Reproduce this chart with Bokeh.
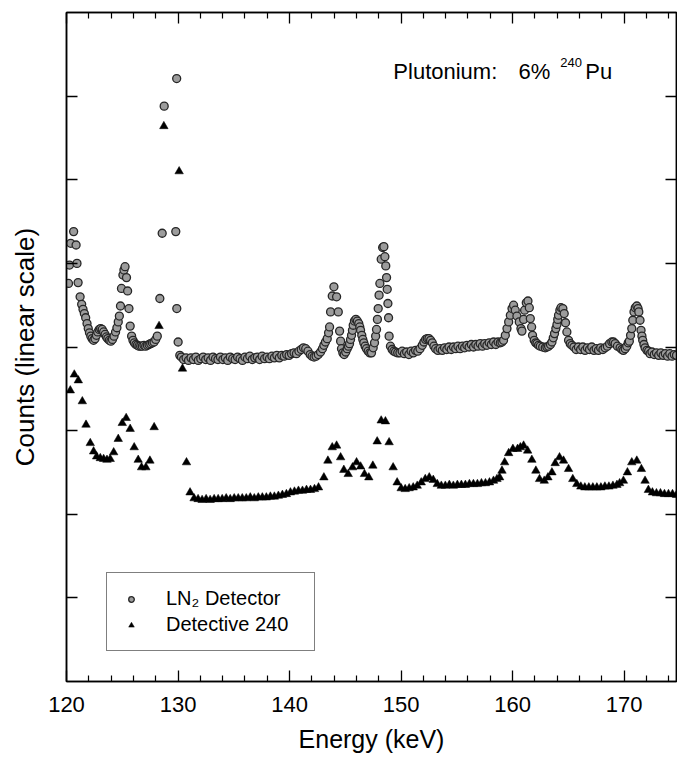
from bokeh.plotting import figure
from bokeh.models import (LinearAxis, FixedTicker, Range1d, Legend, LegendItem,
                          Label, CustomJSTickFormatter)
from bokeh.embed import file_html
from bokeh.resources import INLINE

FONT = "Liberation Sans"

# ---------------- data ----------------
# LN2 detector spectrum: energy (keV) and counts (arbitrary linear units)
ln2_kev_a = [120.18, 120.27, 120.38, 120.64, 120.86, 120.94, 121.04, 121.22, 121.36, 121.48,
             121.60, 121.72, 121.84, 121.95, 122.06, 122.18, 122.30, 122.43, 122.56, 122.68,
             122.80, 122.93, 123.06, 123.20, 123.33, 123.46, 123.58, 123.70, 123.84, 123.98,
             124.12, 124.26, 124.40, 124.52, 124.64, 124.74, 124.84, 124.93, 125.06, 125.15,
             125.25, 125.38, 125.48, 125.60, 125.71, 125.84, 125.96, 126.08, 126.22, 126.36,
             126.50, 126.65, 126.80, 126.95, 127.10, 127.25, 127.40, 127.55, 127.70, 127.85,
             128.00, 128.14, 128.37, 128.58, 128.76, 129.88, 129.80, 129.89, 130.01, 130.16]
ln2_cts_a = [4.76, 4.98, 5.24, 5.38, 5.22, 5.00, 4.77, 4.60, 4.51, 4.45,
             4.40, 4.35, 4.28, 4.22, 4.17, 4.13, 4.10, 4.08, 4.10, 4.14,
             4.18, 4.21, 4.22, 4.21, 4.18, 4.15, 4.12, 4.10, 4.08, 4.07,
             4.09, 4.13, 4.18, 4.23, 4.30, 4.37, 4.49, 4.70, 4.86, 4.92,
             4.96, 4.83, 4.67, 4.46, 4.25, 4.13, 4.08, 4.05, 4.03, 4.02,
             4.01, 4.01, 4.01, 4.02, 4.01, 4.02, 4.03, 4.04, 4.05, 4.06,
             4.09, 4.13, 4.58, 5.36, 6.88, 7.21, 5.38, 4.46, 4.06, 3.90]

ln2_kev_b = [130.30, 130.50, 130.72, 130.94, 131.16, 131.38, 131.60, 131.82, 132.04, 132.26,
             132.48, 132.70, 132.92, 133.14, 133.36, 133.58, 133.80, 134.02, 134.24, 134.46,
             134.68, 134.90, 135.12, 135.34, 135.56, 135.78, 136.00, 136.22, 136.44, 136.66,
             136.88, 137.10, 137.32, 137.54, 137.76, 137.98, 138.20, 138.42, 138.64, 138.86,
             139.08, 139.30, 139.52, 139.74, 139.96, 140.18, 140.40, 140.62, 140.84]
ln2_cts_b = [3.88, 3.85, 3.87, 3.84, 3.87, 3.85, 3.88, 3.84, 3.86, 3.88,
             3.85, 3.87, 3.84, 3.88, 3.86, 3.85, 3.88, 3.85, 3.87, 3.84,
             3.88, 3.86, 3.85, 3.88, 3.86, 3.84, 3.88, 3.86, 3.89, 3.85,
             3.87, 3.88, 3.85, 3.89, 3.86, 3.88, 3.86, 3.89, 3.87, 3.90,
             3.87, 3.90, 3.89, 3.91, 3.90, 3.92, 3.93, 3.92, 3.95]

ln2_kev_c = [141.05, 141.25, 141.45, 141.65, 141.85, 142.02, 142.20, 142.38, 142.58, 142.78,
             142.95, 143.08, 143.22, 143.38, 143.50, 143.59, 143.68, 143.83, 143.98, 144.22,
             144.37, 144.49, 144.58, 144.66, 144.78, 144.90, 145.04, 145.17, 145.28, 145.38,
             145.47, 145.56, 145.64, 145.71, 145.82, 145.95, 146.08, 146.21, 146.30, 146.37,
             146.48, 146.57, 146.66, 146.78, 146.90, 147.05, 147.20, 147.35, 147.50, 147.62,
             147.72, 147.80, 147.88, 147.95, 148.03, 148.10, 148.22, 148.35, 148.46, 148.55,
             148.63, 148.70, 148.76, 148.82, 148.88, 148.93, 149.05, 149.20, 149.35, 149.50,
             149.70, 149.90]
ln2_cts_c = [3.97, 3.99, 3.98, 3.95, 3.91, 3.89, 3.88, 3.89, 3.91, 3.94,
             3.98, 4.02, 4.06, 4.10, 4.17, 4.24, 4.42, 4.61, 4.72, 4.60,
             4.42, 4.19, 4.07, 3.98, 3.93, 3.91, 3.94, 3.98, 4.01, 4.04,
             4.09, 4.14, 4.20, 4.26, 4.31, 4.33, 4.31, 4.28, 4.24, 4.20,
             4.14, 4.09, 4.05, 4.01, 3.98, 3.95, 3.93, 3.93, 3.99, 4.05,
             4.13, 4.21, 4.33, 4.46, 4.62, 4.76, 5.05, 5.19, 5.20, 5.08,
             4.97, 4.83, 4.69, 4.52, 4.35, 4.13, 4.01, 3.97, 3.95, 3.94,
             3.93, 3.93]

ln2_kev_d = [150.10, 150.30, 150.50, 150.70, 150.90, 151.10, 151.30, 151.50, 151.70, 151.90,
             152.05, 152.20, 152.35, 152.50, 152.65, 152.80, 152.95, 153.10, 153.30, 153.50,
             153.70, 153.90, 154.10, 154.30, 154.50, 154.70, 154.90, 155.10, 155.30, 155.50,
             155.70, 155.90, 156.10, 156.30, 156.50, 156.70, 156.90, 157.10, 157.30, 157.50,
             157.70, 157.90, 158.10, 158.30, 158.50, 158.70, 158.90, 159.05]
ln2_cts_d = [3.95, 3.92, 3.94, 3.91, 3.95, 3.93, 3.96, 3.95, 3.98, 4.02,
             4.06, 4.09, 4.10, 4.10, 4.08, 4.05, 4.01, 3.98, 3.96, 3.98,
             3.96, 3.99, 3.97, 4.00, 3.97, 4.00, 3.98, 4.01, 3.98, 4.01,
             3.99, 4.02, 4.00, 4.03, 4.00, 4.03, 4.01, 4.04, 4.01, 4.04,
             4.02, 4.05, 4.03, 4.06, 4.03, 4.06, 4.05, 4.06]

ln2_kev_e = [159.19, 159.35, 159.50, 159.65, 159.80, 159.95, 160.09, 160.24, 160.39, 160.60,
             160.75, 160.84, 160.99, 161.08, 161.23, 161.38, 161.50, 161.59, 161.71, 161.79,
             161.94, 162.07, 162.19, 162.33, 162.48, 162.70, 162.93, 163.08, 163.23, 163.40,
             163.53, 163.65, 163.76, 163.88, 163.98, 164.05, 164.12, 164.24, 164.34, 164.51,
             164.63, 164.75, 164.87, 165.02, 165.17, 165.32, 165.50, 165.70, 165.90, 166.10,
             166.30, 166.50, 166.70, 166.90, 167.10, 167.30, 167.50, 167.70, 167.90, 168.10,
             168.30, 168.50, 168.70, 168.90, 169.05, 169.20, 169.40, 169.64, 169.80, 169.94,
             170.10, 170.24, 170.37, 170.47, 170.58, 170.69, 170.78, 170.89, 171.00, 171.14,
             171.25, 171.32, 171.43, 171.52, 171.60, 171.67, 171.78, 171.88, 172.05, 172.20,
             172.33, 172.50, 172.70, 172.90, 173.10, 173.30, 173.50, 173.70, 173.90, 174.10,
             174.30, 174.50, 174.70]
ln2_cts_e = [4.08, 4.14, 4.22, 4.30, 4.38, 4.46, 4.50, 4.44, 4.37, 4.30,
             4.22, 4.19, 4.33, 4.44, 4.53, 4.55, 4.47, 4.34, 4.24, 4.14,
             4.08, 4.05, 4.04, 4.02, 4.01, 4.00, 3.99, 4.00, 4.01, 4.03,
             4.06, 4.11, 4.16, 4.22, 4.27, 4.33, 4.38, 4.44, 4.47, 4.46,
             4.40, 4.29, 4.18, 4.08, 4.04, 4.02, 4.00, 3.97, 4.00, 3.97,
             4.00, 3.96, 3.99, 3.97, 4.00, 3.96, 3.98, 3.96, 3.99, 3.97,
             3.99, 4.01, 4.04, 4.06, 4.06, 4.04, 4.01, 3.99, 3.97, 3.96,
             3.98, 4.01, 4.05, 4.07, 4.14, 4.22, 4.32, 4.42, 4.47, 4.49,
             4.46, 4.42, 4.32, 4.20, 4.13, 4.08, 4.03, 3.99, 3.96, 3.95,
             3.92, 3.94, 3.91, 3.93, 3.90, 3.93, 3.90, 3.92, 3.89, 3.92,
             3.89, 3.91, 3.90]

# Detective 240 spectrum
det_kev_a = [120.34, 120.70, 121.06, 121.42, 121.75, 122.13, 122.43, 122.70, 123.03, 123.33,
             123.63, 123.92, 124.23, 124.64, 125.00, 125.35, 125.71, 126.07, 126.43, 126.73,
             127.12, 127.48, 127.86, 128.30, 128.73, 130.10, 130.40, 130.76, 131.08, 131.44]
det_cts_a = [3.48, 3.67, 3.60, 3.35, 3.07, 2.85, 2.75, 2.69, 2.67, 2.66,
             2.65, 2.66, 2.74, 2.90, 3.09, 3.15, 3.02, 2.80, 2.65, 2.56,
             2.56, 2.64, 3.04, 4.25, 6.64, 6.10, 3.74, 2.62, 2.26, 2.19]

det_kev_b = [131.80, 132.16, 132.52, 132.88, 133.24, 133.60, 133.96, 134.32, 134.68, 135.04,
             135.40, 135.76, 136.12, 136.48, 136.84, 137.20, 137.56, 137.92, 138.28, 138.64,
             139.00, 139.36, 139.72, 140.08, 140.44, 140.80, 141.16, 141.52, 141.88, 142.24,
             142.60]
det_cts_b = [2.18, 2.17, 2.18, 2.17, 2.18, 2.18, 2.18, 2.19, 2.18, 2.19,
             2.19, 2.19, 2.19, 2.20, 2.19, 2.20, 2.20, 2.20, 2.21, 2.21,
             2.22, 2.23, 2.24, 2.26, 2.27, 2.28, 2.28, 2.29, 2.29, 2.30,
             2.32]

det_kev_c = [143.08, 143.44, 143.83, 144.22, 144.58, 144.87, 145.26, 145.65, 146.01, 146.37,
             146.72, 147.11, 147.47, 147.86, 148.22, 148.60, 148.93, 149.29, 149.65, 150.01,
             150.37, 150.73, 151.09, 151.45, 151.81, 152.17, 152.53, 152.89, 153.25, 153.61,
             153.97, 154.33, 154.69, 155.05, 155.41, 155.77, 156.13, 156.49, 156.85, 157.21,
             157.57, 157.93, 158.29, 158.60]
det_cts_c = [2.44, 2.64, 2.80, 2.82, 2.68, 2.53, 2.48, 2.56, 2.62, 2.57,
             2.48, 2.44, 2.58, 2.87, 3.12, 3.11, 2.86, 2.56, 2.38, 2.31,
             2.30, 2.31, 2.32, 2.34, 2.38, 2.42, 2.44, 2.41, 2.36, 2.34,
             2.34, 2.35, 2.34, 2.35, 2.35, 2.35, 2.36, 2.36, 2.36, 2.37,
             2.37, 2.38, 2.40, 2.42]

det_kev_d = [158.84, 159.05, 159.29, 159.65, 160.03, 160.45, 160.70, 160.99, 161.35, 161.73,
             162.09, 162.42, 162.84, 163.17, 163.53, 163.82, 164.21, 164.57, 165.02, 165.40,
             165.76, 166.12, 166.48, 166.84, 167.20, 167.56, 167.92, 168.28, 168.64, 169.00,
             169.36, 169.60, 169.94, 170.30, 170.69, 171.14, 171.55, 171.88, 172.18, 172.54,
             172.90, 173.26, 173.62, 173.98, 174.34, 174.70]
det_cts_d = [2.44, 2.52, 2.62, 2.73, 2.78, 2.78, 2.80, 2.82, 2.76, 2.65,
             2.52, 2.42, 2.40, 2.44, 2.50, 2.61, 2.68, 2.64, 2.54, 2.42,
             2.36, 2.33, 2.32, 2.32, 2.32, 2.32, 2.32, 2.33, 2.33, 2.34,
             2.35, 2.37, 2.40, 2.50, 2.62, 2.64, 2.54, 2.40, 2.29, 2.26,
             2.25, 2.25, 2.24, 2.24, 2.24, 2.23]

x_major = [120, 130, 140, 150, 160, 170]
x_minor = [122, 124, 126, 128, 132, 134, 136, 138, 142, 144, 146, 148,
           152, 154, 156, 158, 162, 164, 166, 168, 172, 174]
y_major = [1, 2, 3, 4, 5, 6, 7]

ln2_kev = ln2_kev_a + ln2_kev_b + ln2_kev_c + ln2_kev_d + ln2_kev_e
ln2_cts = ln2_cts_a + ln2_cts_b + ln2_cts_c + ln2_cts_d + ln2_cts_e
det_kev = det_kev_a + det_kev_b + det_kev_c + det_kev_d
det_cts = det_cts_a + det_cts_b + det_cts_c + det_cts_d

# ---------------- figure ----------------
p = figure(width=677, height=762, x_range=Range1d(120, 174.7), y_range=Range1d(0, 8),
           output_backend="svg", toolbar_location=None,
           x_axis_location=None, y_axis_location=None,
           min_border_left=66, min_border_right=1, min_border_top=12, min_border_bottom=81)
p.grid.visible = False
p.outline_line_color = "black"
p.outline_line_width = 1.5
p.background_fill_color = "white"
p.border_fill_color = "white"

blank = CustomJSTickFormatter(code="return ''")


def make_axis(ticks, minor, labelled, axis_label=None):
    ax = LinearAxis(ticker=FixedTicker(ticks=ticks, minor_ticks=minor))
    ax.axis_line_color = "black"
    ax.axis_line_width = 1.5
    ax.major_tick_in = 11
    ax.major_tick_out = 0
    ax.major_tick_line_width = 1.3
    ax.minor_tick_in = 6
    ax.minor_tick_out = 0
    ax.minor_tick_line_width = 1.2
    ax.major_label_text_font = FONT
    ax.major_label_text_color = "black"
    if labelled:
        ax.major_label_text_font_size = "22px"
        ax.major_label_standoff = 15
    else:
        ax.formatter = blank
        ax.major_label_text_font_size = "1px"
        ax.major_label_standoff = 0
    if axis_label is not None:
        ax.axis_label = axis_label
        ax.axis_label_text_font = FONT
        ax.axis_label_text_font_size = "25px"
        ax.axis_label_text_font_style = "normal"
        ax.axis_label_text_color = "black"
    return ax


bottom = make_axis(x_major, x_minor, True, "Energy (keV)")
bottom.axis_label_standoff = 10
top = make_axis(x_major, x_minor, False)
left = make_axis(y_major, [], False, "Counts (linear scale)")
left.axis_label_standoff = 27
left.axis_label_text_font_size = "26px"
right = make_axis(y_major, [], False)
p.add_layout(bottom, "below")
p.add_layout(top, "above")
p.add_layout(left, "left")
p.add_layout(right, "right")

r_ln2 = p.scatter(ln2_kev, ln2_cts, marker="circle", size=8,
                  fill_color="#9c9c9c", line_color="#262626", line_width=1.3)
r_det = p.scatter(det_kev, det_cts, marker="triangle", size=8.5,
                  fill_color="black", line_color="black", line_width=0.5)

legend = Legend(items=[LegendItem(label="LN₂ Detector", renderers=[r_ln2]),
                       LegendItem(label="Detective 240", renderers=[r_det])],
                location=(40, 30), orientation="vertical",
                border_line_color="black", border_line_width=1.0,
                background_fill_color="white", background_fill_alpha=1.0,
                label_text_font=FONT, label_text_font_size="20px",
                label_text_color="black",
                padding=14, spacing=3, glyph_width=20, glyph_height=14,
                label_standoff=25, label_width=134, label_height=22, margin=0)
p.add_layout(legend)

# annotation "Plutonium:  6% 240Pu"
p.add_layout(Label(x=149.31, y=7.30, text="Plutonium:", text_font=FONT,
                   text_font_size="22px", text_baseline="alphabetic", text_color="black"))
p.add_layout(Label(x=160.54, y=7.30, text="6%", text_font=FONT,
                   text_font_size="22px", text_baseline="alphabetic", text_color="black"))
p.add_layout(Label(x=164.28, y=7.40, text="240", text_font=FONT,
                   text_font_size="13px", text_baseline="alphabetic", text_color="black"))
p.add_layout(Label(x=166.52, y=7.30, text="Pu", text_font=FONT,
                   text_font_size="22px", text_baseline="alphabetic", text_color="black"))

open("out.html", "w").write(file_html(p, INLINE))
